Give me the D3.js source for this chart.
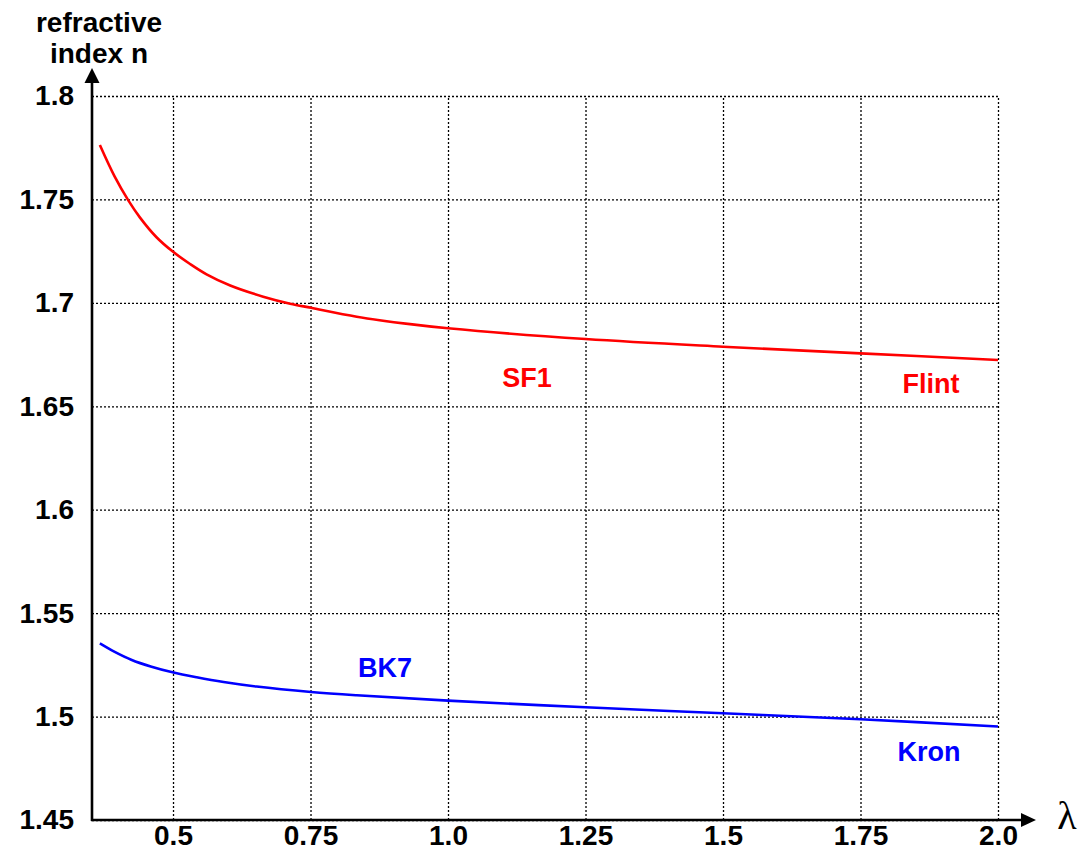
<!DOCTYPE html>
<html>
<head>
<meta charset="utf-8">
<script src="https://cdn.jsdelivr.net/npm/d3@7"></script>
<style>
  body { margin: 0; background: #fff; }
  text { font-family: "Liberation Sans", Arial, sans-serif; font-weight: bold; }
</style>
</head>
<body>
<svg id="display"></svg>
<script>
// wavelength (um) and refractive index
let sf1Lambda = [0.367, 0.394, 0.419, 0.44, 0.47, 0.499, 0.531, 0.561, 0.604, 0.664, 0.713, 0.751, 0.834, 0.931, 1.0, 1.25, 1.5, 1.75, 2.0]
let sf1N = [1.7763, 1.761, 1.7494, 1.7412, 1.7317, 1.7249, 1.7188, 1.7138, 1.7084, 1.703, 1.6996, 1.6976, 1.6933, 1.6897, 1.6877, 1.6825, 1.6788, 1.6756, 1.6724]
let bk7Lambda = [0.367, 0.394, 0.424, 0.461, 0.499, 0.543, 0.592, 0.652, 0.751, 0.834, 1.0, 1.25, 1.5, 1.75, 2.0]
let bk7N = [1.5354, 1.5313, 1.5275, 1.5241, 1.5214, 1.519, 1.5167, 1.5145, 1.5119, 1.5103, 1.5077, 1.5045, 1.5016, 1.4987, 1.4952]
let xTicks = [0.5, 0.75, 1.0, 1.25, 1.5, 1.75, 2.0]
let xTickLabels = ['0.5', '0.75', '1.0', '1.25', '1.5', '1.75', '2.0']
let yTicks = [1.45, 1.5, 1.55, 1.6, 1.65, 1.7, 1.75, 1.8]
let yTickLabels = ['1.45', '1.5', '1.55', '1.6', '1.65', '1.7', '1.75', '1.8']

let width = 1083
let height = 851
let padLeft = 92, padRight = 998, padTop = 96, padBottom = 820

let svg = d3.select('#display')
  .attr('width', width)
  .attr('height', height)

const xScale = d3.scaleLinear()
  .domain([0.3527, 2.0])
  .range([padLeft, padRight])

const yScale = d3.scaleLinear()
  .domain([1.45, 1.8])
  .range([padBottom, padTop])

// grid + tick labels
let yAxis = d3.axisLeft(yScale)
  .tickValues(yTicks)
  .tickSize(-(padRight - padLeft))
  .tickPadding(18)
  .tickFormat((d, i) => yTickLabels[i])

let xAxis = d3.axisBottom(xScale)
  .tickValues(xTicks)
  .tickSize(-(padBottom - padTop))
  .tickPadding(5)
  .tickFormat((d, i) => xTickLabels[i])

svg.append('g')
  .attr('transform', 'translate(' + padLeft + ',0)')
  .call(yAxis)
  .call(g => g.select('.domain').remove())

svg.append('g')
  .attr('transform', 'translate(0,' + padBottom + ')')
  .call(xAxis)
  .call(g => g.select('.domain').remove())

svg.selectAll('.tick line')
  .attr('stroke', '#000')
  .attr('stroke-width', 1.3)
  .attr('stroke-dasharray', '2,2')

svg.selectAll('.tick text')
  .attr('fill', '#000')
  .style('font-size', '28px')
  .style('font-family', '"Liberation Sans", Arial, sans-serif')
  .style('font-weight', 'bold')

// curves
let line = d3.line()
  .x(d => xScale(d[0]))
  .y(d => yScale(d[1]))
  .curve(d3.curveCatmullRom.alpha(0.5))

svg.append('path')
  .datum(sf1Lambda.map((l, i) => [l, sf1N[i]]))
  .attr('d', line)
  .attr('fill', 'none')
  .attr('stroke', '#ff0000')
  .attr('stroke-width', 2.6)

svg.append('path')
  .datum(bk7Lambda.map((l, i) => [l, bk7N[i]]))
  .attr('d', line)
  .attr('fill', 'none')
  .attr('stroke', '#0000ff')
  .attr('stroke-width', 2.6)

// axes with arrows
svg.append('line')
  .attr('x1', padLeft).attr('y1', padBottom + 1)
  .attr('x2', padLeft).attr('y2', 80)
  .attr('stroke', '#000').attr('stroke-width', 2.6)
svg.append('path')
  .attr('d', 'M' + padLeft + ',68 L' + (padLeft - 7.5) + ',83 L' + (padLeft + 7.5) + ',83 Z')
  .attr('fill', '#000')

svg.append('line')
  .attr('x1', padLeft - 1).attr('y1', padBottom)
  .attr('x2', 1023).attr('y2', padBottom)
  .attr('stroke', '#000').attr('stroke-width', 2.6)
svg.append('path')
  .attr('d', 'M1036,' + padBottom + ' L1021,' + (padBottom - 7) + ' L1021,' + (padBottom + 7) + ' Z')
  .attr('fill', '#000')

// axis titles
svg.append('text')
  .attr('x', 99).attr('y', 32)
  .attr('text-anchor', 'middle')
  .style('font-size', '28px')
  .text('refractive')
svg.append('text')
  .attr('x', 99).attr('y', 63)
  .attr('text-anchor', 'middle')
  .style('font-size', '28px')
  .text('index n')

svg.append('text')
  .attr('x', 1067).attr('y', 829)
  .attr('text-anchor', 'middle')
  .style('font-family', '"Liberation Serif", "Times New Roman", serif')
  .style('font-weight', 'normal')
  .style('font-size', '40px')
  .text('λ')

// curve labels
let labels = [
  { text: 'SF1', x: 527, y: 387, color: '#ff0000' },
  { text: 'Flint', x: 931, y: 393, color: '#ff0000' },
  { text: 'BK7', x: 385, y: 677, color: '#0000ff' },
  { text: 'Kron', x: 929, y: 761, color: '#0000ff' }
]
svg.selectAll('.curve-label')
  .data(labels)
  .enter()
  .append('text')
  .attr('class', 'curve-label')
  .attr('x', d => d.x)
  .attr('y', d => d.y)
  .attr('text-anchor', 'middle')
  .attr('fill', d => d.color)
  .style('font-size', '27px')
  .text(d => d.text)
</script>
</body>
</html>
